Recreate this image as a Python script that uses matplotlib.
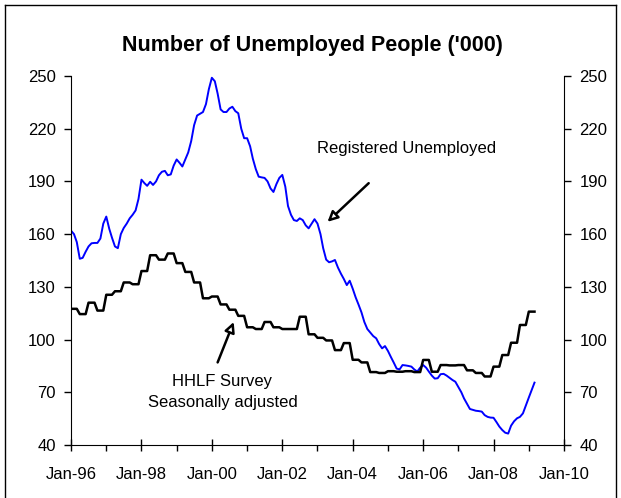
import matplotlib
matplotlib.use("Agg")
import matplotlib.pyplot as plt
import matplotlib.dates as mdates
from matplotlib.lines import Line2D
import numpy as np
import pandas as pd

plt.rcParams['font.family'] = ['Liberation Sans', 'DejaVu Sans']

# registered unemployed, monthly Jan-96 .. Mar-09 ('000)
registered = [
    162, 160, 155.5, 146, 146.5, 150, 153, 154.8, 155, 155, 157.5, 166,          # 1996
    170, 163, 158, 153, 152, 160, 163.5, 166, 169, 171, 173.5, 180,              # 1997
    191, 189, 187.5, 189.8, 188, 190, 193.5, 195.5, 196, 193.5, 194, 199,        # 1998
    202.5, 200.5, 198.5, 202.5, 206.5, 213, 222, 227.5, 228.5, 229.5, 234, 242.5,  # 1999
    249, 247, 240, 231, 229.5, 229.5, 231.5, 232.5, 230, 228.8, 220, 214.6,      # 2000
    214.6, 210, 203, 197, 192.7, 192.3, 192, 190, 186, 184, 188.5, 192,          # 2001
    193.7, 187, 176, 171, 168, 167.5, 169, 168, 165, 163.3, 166, 168.5,          # 2002
    166, 160, 152, 145.5, 144, 144.5, 145.3, 141, 137.5, 134.5, 131, 133.5,      # 2003
    129, 124, 120, 115.5, 110, 106, 104, 102, 100.7, 97.5, 95, 96.3,             # 2004
    93.5, 90, 87, 83.5, 83, 85.5, 85.3, 85, 84.6, 83, 81.8, 84,                  # 2005
    85.5, 84, 81.8, 79.5, 77.8, 78, 80.3, 80.5, 79.5, 78.3, 77, 76,              # 2006
    73, 70, 66.5, 63.5, 60.5, 60, 59.5, 59.3, 59, 57, 56, 55.6,                  # 2007
    55.5, 53, 50.5, 48.5, 47, 46.5, 51, 53.5, 55.2, 56, 58, 62.5,                # 2008
    67, 71.5, 75.5,                                                              # 2009
]

# HHLF survey (seasonally adjusted), quarterly Q1-96 .. Q1-09 ('000)
hhlf_quarterly = [
    117.5, 114.5, 121, 116.5,
    125.5, 127.5, 132.5, 131.5,
    139, 148, 145.5, 149,
    143.5, 138.5, 132.5, 123.5,
    124.5, 120, 117, 113.5,
    107, 106, 110, 107,
    106, 106, 113, 103,
    101, 99.5, 94, 98,
    88.5, 87, 81.5, 81,
    82, 81.7, 82, 81.5,
    88.4, 81.7, 85.5, 85.3,
    85.5, 82.5, 81, 79,
    84.6, 91.2, 98.2, 108.3,
    115.9,
]

yticks = [40, 70, 100, 130, 160, 190, 220, 250]

months = pd.date_range("1996-01-01", periods=len(registered), freq="MS")
hhlf = np.repeat(hhlf_quarterly, 3)[:len(registered)]

fig = plt.figure(figsize=(6.21, 4.98), dpi=100)
ax = fig.add_axes([71 / 621, 1 - 445 / 498, (564 - 71) / 621, (445 - 76) / 498])

ax.plot(months, registered, color="#0000FF", lw=1.4, solid_joinstyle="round")
ax.plot(months, hhlf, color="black", lw=1.8, solid_joinstyle="round")

ax.set_xlim(pd.Timestamp("1996-01-01"), pd.Timestamp("2010-01-01"))
ax.set_ylim(40, 250)
ax.set_yticks(yticks)

ax.xaxis.set_major_locator(mdates.YearLocator(2))
ax.xaxis.set_minor_locator(mdates.YearLocator(1))
ax.xaxis.set_major_formatter(mdates.DateFormatter("%b-%y"))

ax.spines["top"].set_visible(False)
ax.tick_params(axis="y", which="both", left=True, right=True, labelleft=True,
               labelright=True, direction="out", length=5, width=1,
               labelsize=12, pad=6)
ax.tick_params(axis="x", which="major", direction="inout", length=9, width=1,
               labelsize=12, pad=11)
ax.tick_params(axis="x", which="minor", direction="out", length=4, width=1)

fig.text(312 / 621, 1 - 45 / 498, "Number of Unemployed People ('000)",
         ha="center", va="center", fontsize=15.5, fontweight="bold")

arrow = dict(arrowstyle="-|>,head_length=0.6,head_width=0.3", color="black",
             lw=1.8, shrinkA=0, shrinkB=0, fc="white")
ax.annotate("", xy=(pd.Timestamp("2003-04-15"), 167), xytext=(pd.Timestamp("2004-06-15"), 189),
            arrowprops=arrow)
ax.text(pd.Timestamp("2005-07-15"), 209, "Registered Unemployed", ha="center",
        va="center", fontsize=12)
ax.annotate("", xy=(pd.Timestamp("2000-08-15"), 110), xytext=(pd.Timestamp("2000-03-01"), 87),
            arrowprops=arrow)
ax.text(pd.Timestamp("2000-04-20"), 70, "HHLF Survey\nSeasonally adjusted", ha="center",
        va="center", fontsize=12, linespacing=1.5)

# chart-area border
for xs, ys in [([5, 5], [0, 493]), ([5, 616], [493, 493]), ([616, 616], [493, 0])]:
    fig.add_artist(Line2D(np.array(xs) / 621, np.array(ys) / 498, color="black", lw=1))

fig.savefig("out.png", dpi=100)
